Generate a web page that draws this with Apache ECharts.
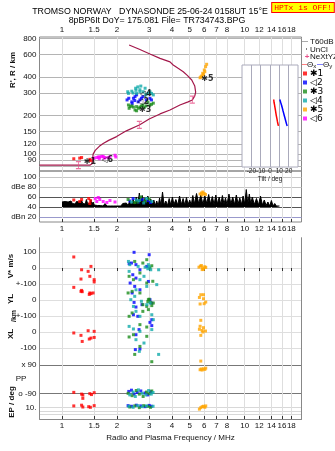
<!DOCTYPE html>
<html>
<head>
<meta charset="utf-8">
<script src="https://cdn.jsdelivr.net/npm/echarts@6.0.0/dist/echarts.min.js"></script>
<style>html,body{margin:0;padding:0;background:#fff;}#chart{width:335px;height:451px;}</style>
</head>
<body>
<div id="chart"></div>
<script>
// ---------- tick labels / categories ----------
const freqTicks = [1, 1.5, 2, 3, 4, 5, 6, 7, 8, 10, 12, 14, 16, 18];
const heightTicks = [80, 90, 100, 120, 150, 200, 300, 400, 600, 800];
const ampTicks = [20, 40, 60, 80, 100];
const tiltTicks = [-20, -10, 0, 10, 20];
const modeNames = ['✱1', '◁2', '✱3', '◁4', '✱5', '◁6'];
const modeColors = ['#ff0000', '#0000ff', '#1a8c1a', '#10aaaa', '#ffa500', '#ff00ff'];

// ---------- profile curve [MHz, km] ----------
const profile = [[0.753,82],[1.42,82],[1.46,84],[1.47,90],[1.48,100],[1.52,107],[1.60,115],[1.68,121],[1.80,128],[1.99,137],[2.25,152],[2.65,169],[3.00,188],[3.44,206],[3.90,221],[4.42,242],[4.90,256],[5.17,265],[5.33,285],[5.39,305],[5.33,340],[5.13,379],[4.85,412],[4.61,440],[4.30,470],[4.06,497],[3.90,525],[3.44,560],[3.03,606],[2.65,660],[2.33,712]];
const errorBars = [[1.23,82],[2.65,169],[5.17,266]];
const modeLabels = [[1.42,87,'✱1'],[1.77,90,'◁6'],[2.87,293,'◁4'],[2.78,256,'◁2'],[2.85,221,'✱3'],[6.25,390,'✱5']];

// ---------- tilt inset [deg, km] ----------
const tiltX = [[4.0,268],[4.3,255],[4.8,245],[5.2,235],[5.8,222],[6.3,210],[6.8,200],[7.4,190],[8.0,180],[8.6,172],[9.0,167]];
const tiltY = [[10.5,268],[11.4,255],[12.4,242],[13.2,230],[14.0,218],[14.9,206],[15.8,195],[16.8,183],[17.6,174],[18.4,167]];

// ---------- noise amplitude [MHz, dB] ----------
const noise = [[1.00,50],[1.02,46],[1.04,51],[1.06,47],[1.08,50],[1.10,46],[1.12,52],[1.14,47],[1.16,49],[1.18,46],[1.20,51],[1.22,47],[1.24,50],[1.26,46],[1.28,53],[1.30,47],[1.32,50],[1.34,46],[1.36,55],[1.38,47],[1.40,51],[1.42,46],[1.44,54],[1.46,45],[1.48,50],[1.50,44],[1.53,48],[1.56,43],[1.59,47],[1.62,43],[1.65,46],[1.68,42],[1.72,47],[1.76,42],[1.80,45],[1.84,42],[1.88,46],[1.92,42],[1.96,45],[2.00,42],[2.05,46],[2.10,42],[2.15,47],[2.20,43],[2.25,48],[2.30,43],[2.35,52],[2.40,44],[2.45,55],[2.50,45],[2.55,60],[2.60,44],[2.65,68],[2.70,45],[2.75,63],[2.80,46],[2.85,58],[2.90,44],[2.95,62],[3.00,45],[3.06,56],[3.12,44],[3.18,54],[3.24,43],[3.30,52],[3.36,42],[3.42,58],[3.48,43],[3.55,70],[3.62,44],[3.70,52],[3.78,43],[3.86,57],[3.94,44],[4.02,60],[4.10,45],[4.20,55],[4.30,44],[4.40,62],[4.50,45],[4.60,57],[4.70,44],[4.80,59],[4.90,45],[5.00,54],[5.10,44],[5.20,63],[5.30,46],[5.45,67],[5.60,47],[5.75,64],[5.90,46],[6.05,62],[6.20,47],[6.35,65],[6.50,46],[6.65,61],[6.80,45],[6.95,64],[7.10,46],[7.25,60],[7.40,45],[7.55,63],[7.70,46],[7.85,58],[8.00,45],[8.20,66],[8.40,46],[8.60,60],[8.80,45],[9.00,64],[9.20,46],[9.40,58],[9.60,45],[9.80,62],[10.0,46],[10.2,75],[10.4,47],[10.6,66],[10.8,46],[11.0,60],[11.3,45],[11.6,57],[11.9,44],[12.2,62],[12.5,44],[12.8,54],[13.1,43],[13.4,50],[13.7,42],[14.0,53],[14.3,42],[14.6,47],[14.9,42],[15.2,45],[15.5,42]];

// ---------- mode 1 (red) ----------
const m1Top = [[1.16,92],[1.25,93],[1.28,94],[1.42,91],[1.43,89]];
const m1Amp = [[1.16,54],[1.28,55],[1.25,51],[1.40,57],[1.43,53],[1.42,47]];
const m1V = [[1.16,69],[1.44,10],[1.28,-11],[1.39,-21],[1.27,-69],[1.42,-52],[1.50,-73],[1.50,-87]];
const m1YL = [[1.16,79],[1.28,60],[1.29,52],[1.42,44],[1.48,44],[1.41,35],[1.44,40],[1.27,54]];
const m1XL = [[1.16,-6],[1.27,-21],[1.39,8],[1.50,4],[1.44,-38],[1.50,-34],[1.29,-59],[1.41,-44]];
const m1PP = [[1.16,-84],[1.28,-95],[1.30,-101],[1.42,-92],[1.50,-86],[1.45,-98],[1.30,-122]];
const m1EP = [[1.16,25],[1.28,40],[1.40,15],[1.43,10],[1.50,30],[1.30,12]];
// ---------- mode 2 (blue) ----------
const m2Top = [[2.27,265],[2.32,273],[2.41,256],[2.46,273],[2.51,281],[2.56,290],[2.61,256],[2.67,265],[2.72,273],[2.77,281],[2.89,265],[3.03,273],[3.09,265],[2.50,262],[2.42,248]];
const m2Amp = [[2.35,52],[2.45,57],[2.62,50],[2.75,55],[2.95,53],[3.05,49]];
const m2V = [[2.48,98],[3.00,83],[2.40,31],[2.33,27],[2.54,21],[2.91,10],[2.67,-11],[2.44,-42],[2.54,-63],[2.97,-84],[2.36,-94]];
const m2YL = [[2.50,85],[2.67,64],[2.42,44],[2.48,-15],[2.74,-29],[3.03,2],[3.10,-19],[2.54,-44],[2.46,-92]];
const m2XL = [[2.60,98],[3.10,77],[3.03,60],[3.10,40],[2.64,15],[2.54,-17],[2.52,-110],[2.67,-106]];
const m2PP = [[2.32,-78],[2.40,-70],[2.48,-95],[2.58,-85],[2.70,-75],[2.85,-88],[2.95,-100],[3.05,-80]];
const m2EP = [[2.30,30],[2.40,20],[2.55,40],[2.70,25],[2.85,15],[3.00,35],[3.08,20]];
// ---------- mode 3 (green) ----------
const m3Top = [[2.31,242],[2.36,235],[2.41,238],[2.46,233],[2.51,221],[2.56,235],[2.67,233],[2.72,238],[2.77,242],[2.89,238],[3.03,242],[3.09,245],[2.33,228],[2.56,218],[2.95,255],[3.16,250],[2.62,228],[2.82,232]];
const m3Amp = [[2.30,55],[2.50,49],[2.70,60],[2.85,52],[3.00,56],[2.60,50]];
const m3V = [[2.50,41],[2.77,31],[2.91,52],[3.03,0],[3.10,14],[2.67,-31],[2.33,-52],[2.46,-73],[2.91,-94],[3.14,-83]];
const m3YL = [[2.30,44],[2.42,54],[2.67,44],[2.97,2],[2.77,-29],[2.91,-40],[3.10,-35],[3.16,-19],[2.42,-81],[2.77,-71],[2.97,-60],[2.95,-10],[3.05,-15],[3.00,5]];
const m3XL = [[2.33,98],[2.67,46],[2.91,31],[2.33,-31],[2.46,-17],[2.91,-27],[2.50,-140],[2.67,-90]];
const m3PP = [[2.30,-90],[2.42,-105],[2.55,-72],[2.65,-95],[2.78,-110],[2.90,-82],[3.00,-92],[3.10,-75],[3.10,111]];
const m3EP = [[2.35,12],[2.50,25],[2.65,8],[2.80,30],[2.95,18],[3.05,10]];
// ---------- mode 4 (cyan) ----------
const m4Top = [[2.29,307],[2.31,298],[2.41,310],[2.53,327],[2.54,315],[2.56,298],[2.67,318],[2.67,307],[2.85,327],[2.87,290],[2.95,298],[3.03,307],[3.09,298],[3.16,290],[2.78,307],[2.60,335],[2.70,340],[2.45,300]];
const m4Amp = [[2.40,50],[2.55,54],[2.80,48],[2.90,57],[3.10,51],[2.65,53]];
const m4V = [[2.31,41],[2.35,21],[2.61,10],[2.97,21],[3.06,-11],[2.81,-52],[3.38,-11],[2.67,-73],[2.33,-21],[2.85,5],[2.95,-5],[3.00,8]];
const m4YL = [[3.30,96],[2.54,64],[2.91,85],[2.38,2],[2.50,23],[2.72,-8],[2.91,-29],[3.03,-19],[2.46,-40],[2.54,-71],[3.10,-92]];
const m4XL = [[2.67,98],[3.16,77],[2.33,35],[2.46,19],[2.67,4],[3.10,15],[2.54,-48],[2.81,-69],[3.38,-140],[2.65,-121]];
const m4PP = [[2.35,-100],[2.45,-82],[2.52,-110],[2.62,-68],[2.75,-90],[2.88,-100],[2.98,-72],[3.08,-95],[3.15,-85]];
const m4EP = [[2.32,20],[2.45,10],[2.60,30],[2.75,15],[2.90,25],[3.15,20]];
// ---------- mode 5 (orange) ----------
const m5Top = [[6.19,503],[6.11,482],[6.01,454],[5.89,428],[5.82,408],[5.70,395],[5.76,401],[5.95,418],[6.05,440]];
const m5Amp = [[5.70,66],[5.80,68],[5.90,70],[6.00,67],[6.10,65],[5.85,64]];
const m5V = [[5.62,5],[5.72,12],[5.80,15],[5.88,0],[5.95,-8],[6.05,8],[6.12,3],[5.85,-10]];
const m5YL = [[5.75,33],[5.95,33],[5.65,16],[5.95,8],[6.12,-13],[5.70,-25],[6.00,-23]];
const m5XL = [[5.75,73],[5.70,36],[5.65,17],[5.95,27],[5.85,10],[6.10,6],[5.90,0],[5.75,-21]];
const m5PP = [[5.70,60],[5.78,65],[5.85,58],[5.95,66],[6.05,62],[6.12,70],[5.75,115]];
const m5EP = [[5.65,3],[5.75,8],[5.85,15],[5.95,20],[6.05,10],[6.12,25]];
// ---------- mode 6 (magenta) ----------
const m6Top = [[1.50,93],[1.55,94],[1.58,95],[1.61,95],[1.65,96],[1.68,96],[1.72,94],[1.79,94],[1.83,95],[1.95,98],[1.97,95],[1.60,92],[1.70,93]];
const m6Amp = [[1.52,57],[1.58,59],[1.61,55],[1.68,51],[1.76,49],[1.83,53],[1.95,50],[1.55,51]];

// ---------- build ----------
const FONT = '"Liberation Sans", Arial, sans-serif';
const FMIN = 0.753, FMAX = 20.46;
const modeData = [
  [m1Top, m1Amp, m1V, m1YL, m1XL, m1PP, m1EP],
  [m2Top, m2Amp, m2V, m2YL, m2XL, m2PP, m2EP],
  [m3Top, m3Amp, m3V, m3YL, m3XL, m3PP, m3EP],
  [m4Top, m4Amp, m4V, m4YL, m4XL, m4PP, m4EP],
  [m5Top, m5Amp, m5V, m5YL, m5XL, m5PP, m5EP],
  [m6Top, m6Amp, null, null, null, null, null]
];
const panelAxis = [0, 2, 3, 4, 5, 6, 7];

function fmtF(v) {
  for (const t of freqTicks) if (Math.abs(t - v) < t * 0.01) return String(t);
  return '';
}
function freqAxis(gi, o) {
  return {
    type: 'log', logBase: 10, gridIndex: gi, min: FMIN, max: FMAX, position: o.position || 'bottom',
    axisLine: {show: !!o.line, lineStyle: {color: '#888'}},
    axisTick: {show: !!o.ticks, inside: true, length: 3, customValues: freqTicks, lineStyle: {color: '#333'}},
    axisLabel: {show: !!o.labels, customValues: freqTicks, formatter: fmtF, fontSize: 8, color: '#111', margin: 3, fontFamily: FONT},
    splitLine: {show: true, lineStyle: {color: o.grid || '#dedede', width: 1}},
    name: o.name || '', nameLocation: 'middle', nameGap: o.nameGap || 15,
    nameTextStyle: {fontSize: 8, color: '#111', fontFamily: FONT}
  };
}
function valAxis(gi, o) {
  return {
    type: o.type || 'value', gridIndex: gi, min: o.min, max: o.max, position: 'left',
    axisLine: {show: o.line !== false, lineStyle: {color: '#888'}},
    axisTick: {show: false, customValues: o.ticks || o.labels},
    axisLabel: {show: true, customValues: o.labels, formatter: o.fmt, fontSize: 8, color: '#111', margin: 3, fontFamily: FONT},
    splitLine: {show: true, lineStyle: {color: o.grid || '#dedede', width: 1}}
  };
}

const grids = [
  {left: 39.5, top: 37, width: 262, height: 134, show: true, borderColor: '#888', borderWidth: 1},
  {left: 242, top: 65, width: 56, height: 102, show: true, backgroundColor: '#fff', borderColor: '#aab', borderWidth: 1, z: 3},
  {left: 39.5, top: 171, width: 262, height: 51, show: true, borderColor: '#888', borderWidth: 1},
  {left: 39.5, top: 237.7, width: 262, height: 46.3},
  {left: 39.5, top: 284, width: 262, height: 32},
  {left: 39.5, top: 316, width: 262, height: 41},
  {left: 39.5, top: 357, width: 262, height: 43},
  {left: 39.5, top: 400, width: 262, height: 19}
];
grids.forEach(g => { g.outerBoundsMode = 'none'; g.containLabel = false; });

const xAxes = [
  freqAxis(0, {position: 'top', labels: true, grid: '#dedede'}),
  {type: 'value', gridIndex: 1, min: -30, max: 30, z: 4,
   axisLine: {show: false}, axisTick: {show: false, customValues: tiltTicks},
   axisLabel: {show: true, customValues: tiltTicks, fontSize: 6.5, color: '#222', margin: 1, fontFamily: FONT},
   splitLine: {show: true, lineStyle: {color: '#aab'}},
   name: 'Tilt / deg', nameLocation: 'middle', nameGap: 8, nameTextStyle: {fontSize: 6.5, color: '#222', fontFamily: FONT}},
  freqAxis(2, {labels: true, ticks: true}),
  freqAxis(3, {position: 'top', ticks: true}),
  freqAxis(4, {}),
  freqAxis(5, {}),
  freqAxis(6, {}),
  freqAxis(7, {labels: true, ticks: true, line: true, name: 'Radio and Plasma Frequency / MHz', nameGap: 15})
];

const yAxes = [
  Object.assign(valAxis(0, {type: 'log', min: 73.8, max: 821.8, labels: heightTicks, fmt: v => String(Math.round(v)), grid: '#b4b4b4', line: false}), {logBase: 10}),
  {type: 'log', logBase: 10, gridIndex: 1, min: 80, max: 497, z: 4, axisLine: {show: false}, axisTick: {show: false}, axisLabel: {show: false}, splitLine: {show: false}},
  valAxis(2, {min: 10, max: 112, labels: ampTicks, line: false,
    fmt: v => v === 80 ? 'dBe 80' : (v === 20 ? 'dBn 20' : String(v)),
    grid: ['#9999cc', '#555555', '#555555', '#c4c4c4', '#c4c4c4']}),
  valAxis(3, {min: -100, max: 189.4, labels: [0, 100], fmt: v => String(v)}),
  valAxis(4, {min: -100, max: 100, labels: [-100, 0, 100], fmt: v => v === 0 ? '0' : '+-100'}),
  valAxis(5, {min: -156.25, max: 100, labels: [-100, 0], ticks: [-100, 0, 100], fmt: v => v === 0 ? '0' : '-100'}),
  valAxis(6, {min: -132.5, max: 140.9, labels: [-90, 90], fmt: v => v > 0 ? 'x 90' : 'o -90', grid: '#777'}),
  Object.assign(valAxis(7, {type: 'log', min: 0.00454, max: 1219, labels: [0.1, 10], ticks: [0.1, 1, 10], fmt: v => v > 1 ? '10.' : '0.1', grid: '#d8d8d8'}), {logBase: 10})
];
for (let gi = 3; gi <= 7; gi++) {
  yAxes.push({type: 'value', gridIndex: gi, position: 'right', min: 0, max: 1,
    axisLine: {show: true, lineStyle: {color: '#888'}}, axisTick: {show: false}, axisLabel: {show: false}, splitLine: {show: false}});
}

const series = [];
series.push({type: 'line', name: 'profile', xAxisIndex: 0, yAxisIndex: 0, data: profile, symbol: 'none',
  lineStyle: {color: '#a3174a', width: 1.2}, z: 2, silent: true});
series.push({type: 'scatter', name: 'err', xAxisIndex: 0, yAxisIndex: 0, data: errorBars,
  symbol: 'path://M0,0L6,0M3,0L3,10M0,10L6,10', symbolSize: [5, 7],
  itemStyle: {color: 'rgba(0,0,0,0)', borderColor: '#e8508a', borderWidth: 1}, z: 3, silent: true});
series.push({type: 'line', name: 'tx', xAxisIndex: 1, yAxisIndex: 1, data: tiltX, symbol: 'none', lineStyle: {color: '#ff0000', width: 1.5}, z: 6, silent: true});
series.push({type: 'line', name: 'ty', xAxisIndex: 1, yAxisIndex: 1, data: tiltY, symbol: 'none', lineStyle: {color: '#0000ff', width: 1.5}, z: 6, silent: true});
series.push({type: 'line', name: 'noise', xAxisIndex: 2, yAxisIndex: 2, data: noise, symbol: 'none',
  lineStyle: {color: '#000', width: 1}, areaStyle: {color: '#000', opacity: 1, origin: 40}, z: 2, silent: true});

modeData.forEach((panels, mi) => {
  panels.forEach((d, pi) => {
    if (!d) return;
    const ai = panelAxis[pi];
    series.push({type: 'scatter', name: modeNames[mi], xAxisIndex: ai, yAxisIndex: ai, data: d,
      symbol: 'rect', symbolSize: 3, itemStyle: {color: modeColors[mi]}, z: 4, silent: true});
  });
});
series.push({type: 'scatter', name: 'labels', xAxisIndex: 0, yAxisIndex: 0, data: modeLabels,
  symbol: 'circle', symbolSize: 1, itemStyle: {color: 'rgba(0,0,0,0)'}, z: 7, silent: true,
  label: {show: true, position: 'inside', formatter: p => p.value[2], color: '#000', fontSize: 8, fontWeight: 'bold', fontFamily: '"DejaVu Sans"', textBorderWidth: 0}});

const T = (text, x, y, o) => ({type: 'text', x: x, y: y, rotation: (o && o.rot) || 0, z: 10,
  style: Object.assign({text: text, fill: '#111', font: '8px ' + FONT, align: 'left', verticalAlign: 'middle'}, o && o.style)});

const graphic = [
  T('TROMSO NORWAY   DYNASONDE 25-06-24 0158UT 15°E', 150, 12, {style: {align: 'center', font: '8.8px ' + FONT, fill: '#000'}}),
  T('8pBP6It DoY= 175.081 File= TR734743.BPG', 157, 20.5, {style: {align: 'center', font: '8.8px ' + FONT, fill: '#000'}}),
  T('HPTx is OFF!', 303, 7.5, {style: {align: 'center', font: '8px "Liberation Mono", monospace', fill: '#ff0000', backgroundColor: '#ffff00', borderColor: '#ff0000', borderWidth: 1, padding: [1, 2, 0, 2]}}),
  {type: 'line', shape: {x1: 302, y1: 41.5, x2: 308, y2: 41.5}, style: {stroke: '#aaa', lineWidth: 1}},
  T('T60dB', 310, 41.5),
  {type: 'rect', shape: {x: 306, y: 48.5, width: 1, height: 1}, style: {fill: '#000'}},
  T('UnCl', 310, 49.5),
  T('+', 307, 57, {style: {align: 'center', fill: '#e8508a', font: 'bold 8px ' + FONT}}),
  T('NeXtYZ', 310, 57),
  {type: 'line', shape: {x1: 302, y1: 64.5, x2: 307, y2: 64.5}, style: {stroke: '#ff8080', lineWidth: 1}},
  T('{a|Θ}{b|x}', 307, 65, {style: {rich: {a: {fontSize: 8, fontFamily: FONT, fill: '#111'}, b: {fontSize: 6, fontFamily: FONT, fill: '#111', padding: [3, 0, 0, 0]}}}}),
  {type: 'line', shape: {x1: 317, y1: 64.5, x2: 323, y2: 64.5}, style: {stroke: '#8080ff', lineWidth: 1}},
  T('{a|Θ}{b|y}', 323, 65, {style: {rich: {a: {fontSize: 8, fontFamily: FONT, fill: '#111'}, b: {fontSize: 6, fontFamily: FONT, fill: '#111', padding: [3, 0, 0, 0]}}}}),
  T("R', R / km", 13, 70, {rot: Math.PI / 2, style: {align: 'center', font: 'bold 8px ' + FONT}}),
  T('V* m/s', 11, 266, {rot: Math.PI / 2, style: {align: 'center', font: 'bold 8px ' + FONT}}),
  T('YL', 11, 299, {rot: Math.PI / 2, style: {align: 'center', font: 'bold 8px ' + FONT}}),
  T('/km', 14, 316, {rot: Math.PI / 2, style: {align: 'center', font: 'bold 7px ' + FONT}}),
  T('XL', 11, 334, {rot: Math.PI / 2, style: {align: 'center', font: 'bold 8px ' + FONT}}),
  T('PP', 21, 379, {style: {align: 'center', font: '8px ' + FONT}}),
  T('EP / deg', 12, 402, {rot: Math.PI / 2, style: {align: 'center', font: 'bold 8px ' + FONT}})
];

const chart = echarts.init(document.getElementById('chart'), null, {renderer: 'canvas', width: 335, height: 451});
chart.setOption({
  animation: false,
  backgroundColor: '#fff',
  textStyle: {fontFamily: FONT},
  grid: grids,
  xAxis: xAxes,
  yAxis: yAxes,
  legend: {data: modeNames, orient: 'vertical', left: 303, top: 69, icon: 'rect', itemWidth: 4, itemHeight: 4, itemGap: 0,
    selectedMode: false, textStyle: {fontSize: 9, lineHeight: 8.4, color: '#000', fontFamily: '"DejaVu Sans"', padding: [0, 0, 0, -2]}, padding: 0},
  series: series,
  graphic: graphic
});
</script>
</body>
</html>
